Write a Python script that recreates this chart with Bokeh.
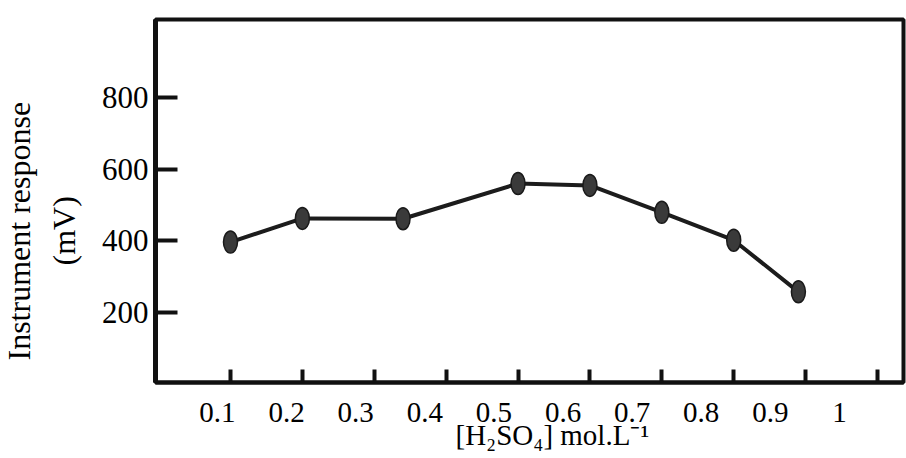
from bokeh.plotting import figure
from bokeh.models import (Range1d, LinearAxis, FixedTicker, CustomJSTickFormatter,
                          ColumnDataSource, Title)
from bokeh.embed import file_html
from bokeh.resources import INLINE

# ---- data ----
h2so4 = [0.1, 0.2, 0.34, 0.5, 0.6, 0.7, 0.8, 0.89]
response = [397, 463, 462, 560, 555, 480, 402, 258]

x_ticks = [0.1, 0.2, 0.3, 0.4, 0.5, 0.6, 0.7, 0.8, 0.9, 1.0]
x_tick_labels = ["0.1", "0.2", "0.3", "0.4", "0.5", "0.6", "0.7", "0.8", "0.9", "1"]
y_ticks = [200, 400, 600, 800]
y_tick_labels = ["200", "400", "600", "800"]
x_title = "[H\u2082SO\u2084] mol.L\u207B\u00B9"
y_title_1 = "Instrument response"
y_title_2 = "(mV)"

FONT = "Liberation Serif"

p = figure(width=906, height=458, output_backend="svg", toolbar_location=None,
           x_range=Range1d(-0.0043, 1.0362), y_range=Range1d(5, 1018),
           min_border_left=155, min_border_right=3, min_border_top=19,
           min_border_bottom=76, background_fill_color="white",
           border_fill_color="white")
p.grid.visible = False
p.outline_line_color = "#111111"
p.outline_line_width = 4

# label axis uses its own range (labels in the scan are offset from tick marks)
p.extra_x_ranges = {"lab": Range1d(0.0103, 1.0927)}

# primary x axis: tick marks only (pointing inward)
xa = p.xaxis[0]
xa.ticker = FixedTicker(ticks=x_ticks)
xa.formatter = CustomJSTickFormatter(code="return ''")
xa.major_tick_in = 13
xa.major_tick_out = 0
xa.major_tick_line_width = 4
xa.major_tick_line_color = "#111111"
xa.minor_tick_line_color = None
xa.axis_line_width = 4
xa.axis_line_color = "#111111"
xa.major_label_text_font_size = "2px"
xa.major_label_standoff = 0

lab_axis = LinearAxis(x_range_name="lab")
lab_axis.ticker = FixedTicker(ticks=x_ticks)
lab_axis.formatter = CustomJSTickFormatter(
    args=dict(tvals=x_ticks, tlabels=x_tick_labels),
    code="""
    let best = 0;
    for (let i = 0; i < tvals.length; i++) {
        if (Math.abs(tvals[i] - tick) < Math.abs(tvals[best] - tick)) best = i;
    }
    return tlabels[best];
    """)
lab_axis.axis_line_color = None
lab_axis.major_tick_line_color = None
lab_axis.minor_tick_line_color = None
lab_axis.major_tick_in = 0
lab_axis.major_tick_out = 0
lab_axis.major_label_standoff = 20
lab_axis.major_label_text_font = FONT
lab_axis.major_label_text_font_size = "29px"
lab_axis.major_label_text_color = "black"
p.add_layout(lab_axis, "below")

p.add_layout(Title(text=x_title, align="left", offset=300, vertical_align="top",
                   standoff=-12, text_font=FONT, text_font_size="29px",
                   text_font_style="normal", text_color="black"), "below")

# y axis
ya = p.yaxis[0]
ya.ticker = FixedTicker(ticks=y_ticks)
ya.major_label_overrides = {t: l for t, l in zip(y_ticks, y_tick_labels)}
ya.major_tick_in = 22
ya.major_tick_out = 0
ya.major_tick_line_width = 4
ya.major_tick_line_color = "#111111"
ya.minor_tick_line_color = None
ya.axis_line_width = 5
ya.axis_line_color = "#111111"
ya.major_label_standoff = 7
ya.major_label_text_font = FONT
ya.major_label_text_font_size = "31px"
ya.major_label_text_color = "black"

# y titles: "(mV)" next to the axis, "Instrument response" further left
p.add_layout(Title(text=y_title_2, align="left", offset=117, vertical_align="bottom",
                   standoff=34, text_font=FONT, text_font_size="32px",
                   text_font_style="normal", text_color="black"), "left")
p.add_layout(Title(text=y_title_1, align="left", offset=22, vertical_align="bottom",
                   standoff=-20, text_font=FONT, text_font_size="32px",
                   text_font_style="normal", text_color="black"), "left")

src = ColumnDataSource(dict(x=h2so4, y=response))
p.line("x", "y", source=src, line_width=4, line_color="#1c1c1c")
p.ellipse("x", "y", source=src, width=14, height=22, width_units="screen",
          height_units="screen", fill_color="#3a3a3a", line_color="#1a1a1a",
          line_width=1.5)

open("out.html", "w").write(file_html(p, INLINE))
